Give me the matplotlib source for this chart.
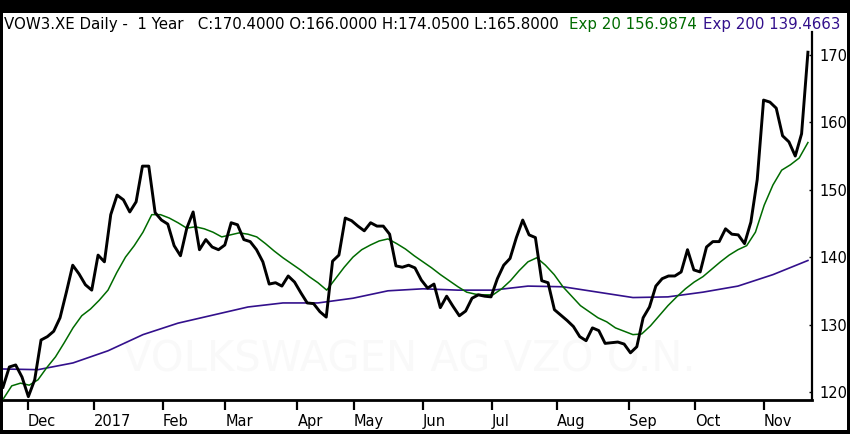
import numpy as np
import pandas as pd
import matplotlib
matplotlib.use("Agg")
import matplotlib.pyplot as plt
from matplotlib.patches import Rectangle

# trading calendar (Xetra), Nov 21 2016 .. Nov 21 2017
holidays = ["2016-12-26", "2017-04-14", "2017-04-17", "2017-05-01"]
days = pd.bdate_range("2016-11-21", "2017-11-21", freq="C", holidays=holidays)

# close, every ~2 trading days
close = [120.7, 123.7, 124.0, 122.2, 119.3, 121.8, 127.7, 128.2, 129.0, 131.0,
         134.8, 138.8, 137.5, 135.9, 135.1, 140.3, 139.3, 146.3, 149.2, 148.5,
         146.7, 148.2, 153.5, 153.5, 146.6, 145.5, 144.9, 141.7, 140.2, 144.3,
         146.7, 141.1, 142.6, 141.5, 141.1, 141.8, 145.1, 144.8, 142.6, 142.3,
         141.1, 139.3, 136.0, 136.2, 135.7, 137.2, 136.3, 134.7, 133.2, 133.1,
         131.9, 131.1, 139.4, 140.3, 145.8, 145.4, 144.6, 143.9, 145.1, 144.6,
         144.6, 143.4, 138.7, 138.5, 138.8, 138.4, 136.6, 135.4, 136.0, 132.5,
         134.2, 132.7, 131.3, 132.0, 133.9, 134.4, 134.2, 134.1, 136.8, 138.8,
         139.8, 142.9, 145.5, 143.3, 142.9, 136.5, 136.2, 132.2, 131.4, 130.6,
         129.7, 128.2, 127.6, 129.5, 129.1, 127.2, 127.3, 127.4, 127.1, 125.8,
         126.7, 131.0, 132.6, 135.7, 136.8, 137.2, 137.2, 137.8, 141.1, 138.1,
         137.8, 141.5, 142.3, 142.3, 144.2, 143.4, 143.3, 142.0, 145.2, 151.5,
         163.3, 163.0, 162.1, 158.0, 157.1, 155.0, 158.3, 170.4]

# 20-day exponential average
exp20 = [118.9, 120.9, 121.3, 121.0, 121.8, 123.6, 125.2, 127.3, 129.5, 131.3,
         132.3, 133.6, 135.1, 137.7, 140.0, 141.7, 143.7, 146.3, 146.3, 145.8,
         145.1, 144.3, 144.5, 144.2, 143.7, 143.0, 143.3, 143.6, 143.4, 143.0,
         142.0, 140.9, 139.9, 139.0, 138.1, 137.1, 136.2, 135.1, 136.8, 138.5,
         140.0, 141.1, 141.8, 142.4, 142.7, 142.0, 141.2, 140.2, 139.3, 138.4,
         137.4, 136.5, 135.6, 134.8, 134.5, 134.4, 134.4, 135.3, 136.5, 138.0,
         139.3, 139.9, 138.8, 137.4, 135.6, 134.2, 132.8, 131.9, 131.0, 130.4,
         129.5, 129.0, 128.5, 128.6, 129.8, 131.3, 132.8, 134.1, 135.3, 136.3,
         137.1, 138.2, 139.3, 140.3, 141.1, 141.7, 143.7, 147.7, 150.7, 152.9,
         153.7, 154.7, 157.0]

# 200-day exponential average
exp200 = [123.4, 123.3, 124.3, 126.1, 128.5, 130.2, 131.4, 132.6, 133.2, 133.2,
          133.9, 135.0, 135.3, 135.1, 135.1, 135.7, 135.6, 134.8, 134.0, 134.1,
          134.8, 135.7, 137.4, 139.5]

month_labels = ["Dec", "2017", "Feb", "Mar", "Apr", "May", "Jun", "Jul",
                "Aug", "Sep", "Oct", "Nov"]
y_ticks = [120, 130, 140, 150, 160, 170]

header = "VOW3.XE Daily -  1 Year   C:170.4000 O:166.0000 H:174.0500 L:165.8000"
exp20_label = "Exp 20 156.9874"
exp200_label = "Exp 200 139.4663"
watermark = "VOLKSWAGEN AG VZO O.N."

GREEN = "#006b00"
PURPLE = "#33108c"

W, H = 850, 434
fig = plt.figure(figsize=(W / 100, H / 100), dpi=100, facecolor="black")
# white panel inside the black frame
fig.patches.append(Rectangle((3 / W, 4 / H), 844 / W, 417 / H,
                             transform=fig.transFigure, facecolor="white",
                             edgecolor="none", zorder=-10))

ax = fig.add_axes([3 / W, 34 / H, 809 / W, 368 / H])
ax.set_facecolor("none")

n = len(days)
x_close = np.linspace(0, n - 1, len(close))
x_e20 = np.linspace(0, n - 1, len(exp20))
x_e200 = np.linspace(0, n - 1, len(exp200))

ax.text(0.502, 0.11, watermark, transform=ax.transAxes, ha="center",
        va="center", fontsize=30, color="#f9f9f9", zorder=0)

ax.plot(x_e200, exp200, color=PURPLE, lw=1.2, zorder=2)
ax.plot(x_e20, exp20, color=GREEN, lw=1.1, zorder=3)
ax.plot(x_close, close, color="black", lw=2.1, zorder=4,
        solid_joinstyle="round")

ax.set_xlim(0, 258.3)
ax.set_ylim(118.8, 173.4)

# first trading day of each month
s = pd.Series(np.arange(n), index=days)
firsts = s.groupby([days.year, days.month]).first().values[1:]
ax.set_xticks(firsts)
ax.set_xticklabels(month_labels, ha="left", fontsize=10.5)
ax.tick_params(axis="x", direction="out", length=7, width=1.6, pad=3)

ax.yaxis.tick_right()
ax.set_yticks(y_ticks)
ax.set_yticklabels([str(v) for v in y_ticks], fontsize=10.5)
ax.tick_params(axis="y", direction="in", length=2, width=1, pad=5)

for side in ["top", "left"]:
    ax.spines[side].set_visible(False)
ax.spines["bottom"].set_linewidth(2.0)
ax.spines["right"].set_linewidth(1.6)

fig.text(4 / W, 1 - 24 / H, header, ha="left", va="center",
         fontsize=10.8, color="black")
fig.text(569 / W, 1 - 24 / H, exp20_label, ha="left", va="center",
         fontsize=10.8, color=GREEN)
fig.text(703 / W, 1 - 24 / H, exp200_label, ha="left", va="center",
         fontsize=10.8, color=PURPLE)

fig.savefig("out.png", dpi=100, facecolor="black")
